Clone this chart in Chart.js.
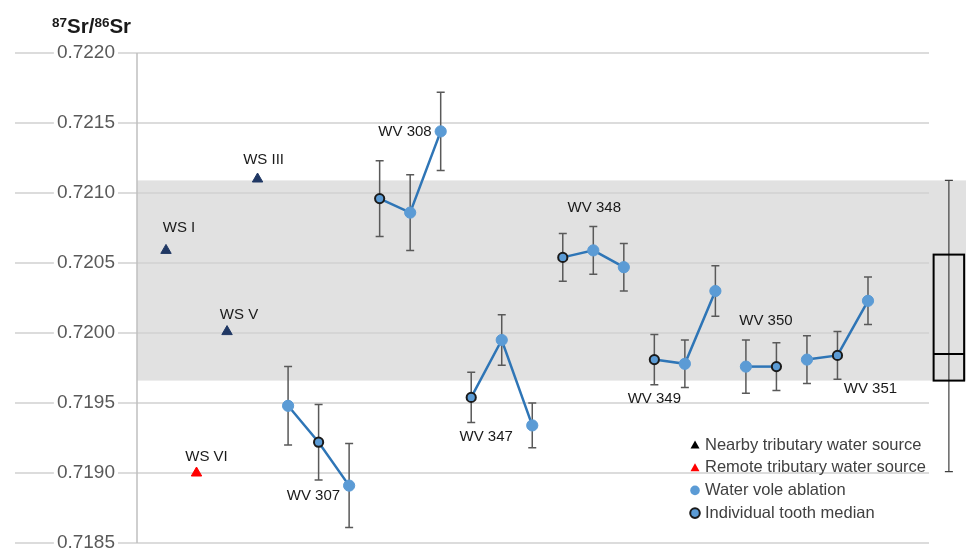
<!DOCTYPE html>
<html>
<head>
<meta charset="utf-8">
<script src="https://cdn.jsdelivr.net/npm/chart.js@4.4.1/dist/chart.umd.min.js"></script>
<style>
    html, body { margin: 0; padding: 0; background: #fff; }
    #wrap { position: relative; width: 966px; height: 554px; }
    #title {
        position: absolute; left: 52px; top: 16px;
        font: bold 20.5px "Liberation Sans", Arial, sans-serif;
        line-height: 20px; color: #1a1a1a; white-space: nowrap;
    }
    #title sup { font-size: 13.5px; vertical-align: baseline; position: relative; top: -6px; }
</style>
</head>
<body>
<div id="wrap">
    <canvas id="chart" width="966" height="554"></canvas>
    <div id="title"><sup>87</sup>Sr/<sup>86</sup>Sr</div>
</div>
<script>
// Water sources (triangles)
const sourceNames = ['WS I', 'WS VI', 'WS V', 'WS III'];
const sourceX = [0, 1, 2, 3];
const sourceValues = [0.72059, 0.71900, 0.72001, 0.72110];
const sourceRemote = [false, true, false, false];

// Water vole teeth (ablation series)
const groupNames = ['WV 307', 'WV 308', 'WV 347', 'WV 348', 'WV 349', 'WV 350', 'WV 351'];
const groupStart = [4, 7, 10, 13, 16, 19, 21];
const groupValues = [
    [0.71948, 0.71922, 0.71891],
    [0.72096, 0.72086, 0.72144],
    [0.71954, 0.71995, 0.71934],
    [0.72054, 0.72059, 0.72047],
    [0.71981, 0.71978, 0.72030],
    [0.71976, 0.71976],
    [0.71981, 0.71984, 0.72023]
];
const groupErrors = [
    [0.00028, 0.00027, 0.00030],
    [0.00027, 0.00027, 0.00028],
    [0.00018, 0.00018, 0.00016],
    [0.00017, 0.00017, 0.00017],
    [0.00018, 0.00017, 0.00018],
    [0.00019, 0.00017],
    [0.00017, 0.00017, 0.00017]
];
const groupMedian = [1, 0, 0, 0, 0, 1, 1];

// Local range band and box plot (min, q1, median, q3, max)
const bandRange = [0.71966, 0.72109];
const boxStats = [0.71901, 0.71966, 0.71985, 0.72056, 0.72109];
const boxX = 25.65;

const yMin = 0.7185, yMax = 0.7220, yStep = 0.0005;

const legendItems = [
    { text: 'Nearby tributary water source', marker: 'triangle', color: '#000000' },
    { text: 'Remote tributary water source', marker: 'triangle', color: '#ff0000' },
    { text: 'Water vole ablation', marker: 'circle', color: '#5b9bd5' },
    { text: 'Individual tooth median', marker: 'median', color: '#5b9bd5' }
];

// label offsets in pixels from an anchor point (style only)
const sourceLabelOffset = [[13, -23], [10, -16], [12, -17], [6, -19]];
const groupLabelStyle = [
    { anchor: 2, dx: -9, dy: 10, align: 'right' },
    { anchor: 2, dx: -9, dy: 0, align: 'right' },
    { anchor: 0, dx: 15, dy: 39, align: 'center' },
    { anchor: 1, dx: 1, dy: -43, align: 'center' },
    { anchor: 0, dx: 0, dy: 39, align: 'center' },
    { anchor: 0, dx: 20, dy: -46, align: 'center' },
    { anchor: 1, dx: 33, dy: 33, align: 'center' }
];

const FONT = '"Liberation Sans", Arial, sans-serif';

// background band, grid lines and axis line
const backgroundPlugin = {
    id: 'background',
    beforeDraw(chart) {
        const { ctx, chartArea, scales: { x, y } } = chart;
        ctx.save();
        ctx.fillStyle = '#fff';
        ctx.fillRect(0, 0, chart.width, chart.height);

        const bTop = y.getPixelForValue(bandRange[1]);
        const bBot = y.getPixelForValue(bandRange[0]);
        ctx.fillStyle = '#e1e1e1';
        ctx.fillRect(chartArea.left, bTop, chart.width - chartArea.left, bBot - bTop);

        ctx.strokeStyle = '#d0d0d0';
        ctx.lineWidth = 1.3;
        const gridEnd = x.getPixelForValue(25);
        y.ticks.forEach(t => {
            const py = y.getPixelForValue(t.value);
            ctx.beginPath();
            ctx.moveTo(15, py);
            ctx.lineTo(gridEnd, py);
            ctx.stroke();
        });

        ctx.strokeStyle = '#bfbfbf';
        ctx.lineWidth = 1.5;
        ctx.beginPath();
        ctx.moveTo(chartArea.left, chartArea.top);
        ctx.lineTo(chartArea.left, chartArea.bottom);
        ctx.stroke();
        ctx.restore();
    }
};

// error bars drawn behind the points
const errorBarPlugin = {
    id: 'errorBars',
    beforeDatasetsDraw(chart) {
        const { ctx, scales: { x, y } } = chart;
        ctx.save();
        ctx.strokeStyle = '#595959';
        ctx.lineWidth = 1.5;
        groupValues.forEach((vals, g) => {
            vals.forEach((v, i) => {
                const px = x.getPixelForValue(groupStart[g] + i);
                const top = y.getPixelForValue(v + groupErrors[g][i]);
                const bot = y.getPixelForValue(v - groupErrors[g][i]);
                ctx.beginPath();
                ctx.moveTo(px, top); ctx.lineTo(px, bot);
                ctx.moveTo(px - 4, top); ctx.lineTo(px + 4, top);
                ctx.moveTo(px - 4, bot); ctx.lineTo(px + 4, bot);
                ctx.stroke();
            });
        });
        ctx.restore();
    }
};

// box plot, point labels
const overlayPlugin = {
    id: 'overlay',
    afterDatasetsDraw(chart) {
        const { ctx, scales: { x, y } } = chart;
        ctx.save();

        // box plot
        const cx = x.getPixelForValue(boxX);
        const half = (x.getPixelForValue(boxX + 0.5) - x.getPixelForValue(boxX - 0.5)) / 2;
        const pMin = y.getPixelForValue(boxStats[0]);
        const pQ1 = y.getPixelForValue(boxStats[1]);
        const pMed = y.getPixelForValue(boxStats[2]);
        const pQ3 = y.getPixelForValue(boxStats[3]);
        const pMax = y.getPixelForValue(boxStats[4]);
        ctx.strokeStyle = '#404040';
        ctx.lineWidth = 1.2;
        ctx.beginPath();
        ctx.moveTo(cx, pMax); ctx.lineTo(cx, pMin);
        ctx.moveTo(cx - 4, pMax); ctx.lineTo(cx + 4, pMax);
        ctx.moveTo(cx - 4, pMin); ctx.lineTo(cx + 4, pMin);
        ctx.stroke();
        ctx.strokeStyle = '#000';
        ctx.lineWidth = 2;
        ctx.strokeRect(cx - half, pQ3, half * 2, pQ1 - pQ3);
        ctx.beginPath();
        ctx.moveTo(cx - half, pMed); ctx.lineTo(cx + half, pMed);
        ctx.stroke();

        // labels
        ctx.font = '15px ' + FONT;
        ctx.fillStyle = '#1a1a1a';
        ctx.textBaseline = 'middle';
        sourceNames.forEach((name, i) => {
            ctx.textAlign = 'center';
            ctx.fillText(name,
                x.getPixelForValue(sourceX[i]) + sourceLabelOffset[i][0],
                y.getPixelForValue(sourceValues[i]) + sourceLabelOffset[i][1]);
        });
        groupNames.forEach((name, g) => {
            const s = groupLabelStyle[g];
            ctx.textAlign = s.align;
            ctx.fillText(name,
                x.getPixelForValue(groupStart[g] + s.anchor) + s.dx,
                y.getPixelForValue(groupValues[g][s.anchor]) + s.dy);
        });
        ctx.restore();
    }
};

// legend inside the plot, lower right
const legendPlugin = {
    id: 'customLegend',
    afterDraw(chart) {
        const { ctx } = chart;
        ctx.save();
        ctx.font = '16.5px ' + FONT;
        ctx.textBaseline = 'middle';
        ctx.textAlign = 'left';
        const lx = 695, ly = 445, gap = 22.7;
        legendItems.forEach((item, i) => {
            const cy = ly + i * gap;
            ctx.fillStyle = item.color;
            if (item.marker === 'triangle') {
                ctx.beginPath();
                ctx.moveTo(lx, cy - 4.5);
                ctx.lineTo(lx + 4.5, cy + 3.5);
                ctx.lineTo(lx - 4.5, cy + 3.5);
                ctx.closePath();
                ctx.fill();
            } else {
                ctx.beginPath();
                ctx.arc(lx, cy, 4.8, 0, Math.PI * 2);
                ctx.fill();
                if (item.marker === 'median') {
                    ctx.strokeStyle = '#1a1a1a';
                    ctx.lineWidth = 2;
                    ctx.stroke();
                }
            }
            ctx.fillStyle = '#404040';
            ctx.fillText(item.text, lx + 10, cy);
        });
        ctx.restore();
    }
};

const datasets = [];
datasets.push({
    type: 'scatter',
    data: sourceValues.map((v, i) => ({ x: sourceX[i], y: v })),
    pointStyle: 'triangle',
    pointRadius: 6,
    pointBackgroundColor: sourceRemote.map(r => r ? '#ff0000' : '#203864'),
    pointBorderColor: sourceRemote.map(r => r ? '#ff0000' : '#203864'),
    pointBorderWidth: 1,
    showLine: false
});
groupValues.forEach((vals, g) => {
    datasets.push({
        type: 'line',
        data: vals.map((v, i) => ({ x: groupStart[g] + i, y: v })),
        borderColor: '#2e75b6',
        borderWidth: 2.5,
        tension: 0,
        pointRadius: vals.map((v, i) => i === groupMedian[g] ? 4.6 : 5.6),
        pointBackgroundColor: '#5b9bd5',
        pointBorderColor: vals.map((v, i) => i === groupMedian[g] ? '#1a1a1a' : '#5b9bd5'),
        pointBorderWidth: vals.map((v, i) => i === groupMedian[g] ? 2 : 1)
    });
});

new Chart(document.getElementById('chart'), {
    type: 'line',
    data: { datasets: datasets },
    options: {
        responsive: false,
        animation: false,
        devicePixelRatio: 1,
        layout: { autoPadding: false, padding: { top: 53, bottom: 11, left: 0, right: 0 } },
        plugins: { legend: { display: false }, tooltip: { enabled: false } },
        scales: {
            x: { type: 'linear', min: -0.95, max: 26.211, display: false },
            y: {
                min: yMin,
                max: yMax,
                afterFit: scale => {
                    scale.width = 137;
                    scale.paddingTop = 0;
                    scale.paddingBottom = 0;
                },
                grid: { display: false, drawTicks: false },
                border: { display: false },
                ticks: {
                    stepSize: yStep,
                    padding: 22,
                    color: '#595959',
                    font: { family: FONT, size: 19 },
                    showLabelBackdrop: true,
                    backdropColor: '#ffffff',
                    backdropPadding: { top: 0, bottom: 0, left: 3, right: 3 },
                    callback: v => v.toFixed(4)
                }
            }
        }
    },
    plugins: [backgroundPlugin, errorBarPlugin, overlayPlugin, legendPlugin]
});
</script>
</body>
</html>
